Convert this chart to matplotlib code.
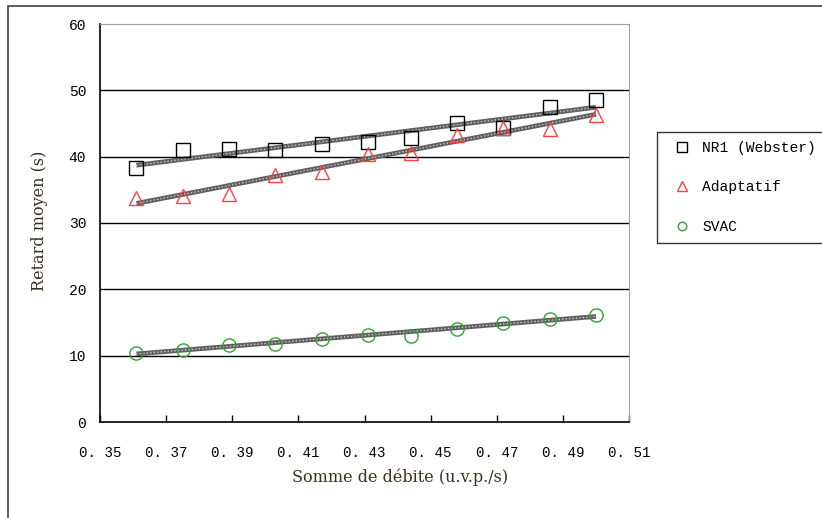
import numpy as np
import matplotlib
matplotlib.use("Agg")
import matplotlib.pyplot as plt
from matplotlib.patches import Rectangle

# data
debit = [0.361, 0.375, 0.389, 0.403, 0.417, 0.431, 0.444, 0.458, 0.472, 0.486, 0.500]
nr1 = [38.3, 41.0, 41.2, 41.0, 41.9, 42.2, 42.8, 45.1, 44.3, 47.5, 48.6]
adaptatif = [33.8, 34.1, 34.4, 37.3, 37.7, 40.4, 40.6, 43.3, 44.3, 44.2, 46.3]
svac = [10.45, 10.9, 11.6, 11.8, 12.5, 13.1, 13.0, 14.0, 14.9, 15.5, 16.2]

series_names = ["NR1 (Webster)", "Adaptatif", "SVAC"]
x_ticks = [0.35, 0.37, 0.39, 0.41, 0.43, 0.45, 0.47, 0.49, 0.51]
x_tick_labels = ["0. 35", "0. 37", "0. 39", "0. 41", "0. 43", "0. 45", "0. 47", "0. 49", "0. 51"]
y_ticks = [0, 10, 20, 30, 40, 50, 60]

mono = "Liberation Mono"

fig = plt.figure(figsize=(8.22, 5.18), dpi=100)
ax = fig.add_axes([100 / 822, 1 - 422 / 518, 529 / 822, 398 / 518])

# outer chart border
fig.patches.append(Rectangle((8 / 822, -0.1), 1.2, 1 - 6 / 518 + 0.1, transform=fig.transFigure,
                             fill=False, edgecolor="#404040", linewidth=1.2, zorder=0))

styles = [("s", "black"), ("^", "#ff4040"), ("o", "#33a033")]
x = np.array(debit)
for values, name, (marker, color) in zip([nr1, adaptatif, svac], series_names, styles):
    ax.plot(debit, values, linestyle="none", marker=marker, markersize=10.5 if marker != "o" else 9.5,
            markerfacecolor="none", markeredgecolor=color, markeredgewidth=1.0, label=name, zorder=4)
    # linear trendline
    k, b = np.polyfit(x, values, 1)
    ax.plot(x, k * x + b, color="#606060", linewidth=3.4, solid_capstyle="butt", zorder=3)
    ax.plot(x, k * x + b, color="#c8c8c8", linewidth=1.0, linestyle=(0, (1, 1.5)), zorder=3)

ax.set_xlim(0.35, 0.51)
ax.set_ylim(0, 60)
ax.set_xticks(x_ticks)
ax.set_xticklabels(x_tick_labels, fontfamily=mono, fontsize=10.2)
ax.set_yticks(y_ticks)
ax.set_yticklabels([str(v) for v in y_ticks], fontfamily=mono, fontsize=10.5)
ax.tick_params(axis="x", direction="in", length=5, width=1, pad=17, top=False)
ax.tick_params(axis="y", length=0, pad=10)

for v in y_ticks[1:-1]:
    ax.axhline(v, color="black", linewidth=1.0, zorder=1)

ax.spines["left"].set_color("black")
ax.spines["bottom"].set_color("black")
ax.spines["left"].set_linewidth(1.2)
ax.spines["bottom"].set_linewidth(1.2)
ax.spines["top"].set_color("#a0a0a0")
ax.spines["right"].set_color("#a0a0a0")

fig.text(400 / 822, 1 - 477 / 518, "Somme de débite (u.v.p./s)", ha="center", va="center",
         fontfamily="DejaVu Serif", fontsize=11.5, color="#3a3020")
fig.text(40 / 822, 1 - 221 / 518, "Retard moyen (s)", ha="center", va="center", rotation=90,
         fontfamily="DejaVu Serif", fontsize=11.5, color="#3a3020")

leg = ax.legend(loc="upper left", bbox_to_anchor=(657 / 822, 1 - 132 / 518),
                bbox_transform=fig.transFigure, borderaxespad=0, frameon=True, fancybox=False,
                markerscale=0.65, labelspacing=1.75, handlelength=2.2, handletextpad=0.3,
                borderpad=0.6, prop={"family": mono, "size": 10.5})
leg.get_frame().set_edgecolor("black")
leg.get_frame().set_linewidth(1.0)

fig.savefig("out.png", dpi=100)
